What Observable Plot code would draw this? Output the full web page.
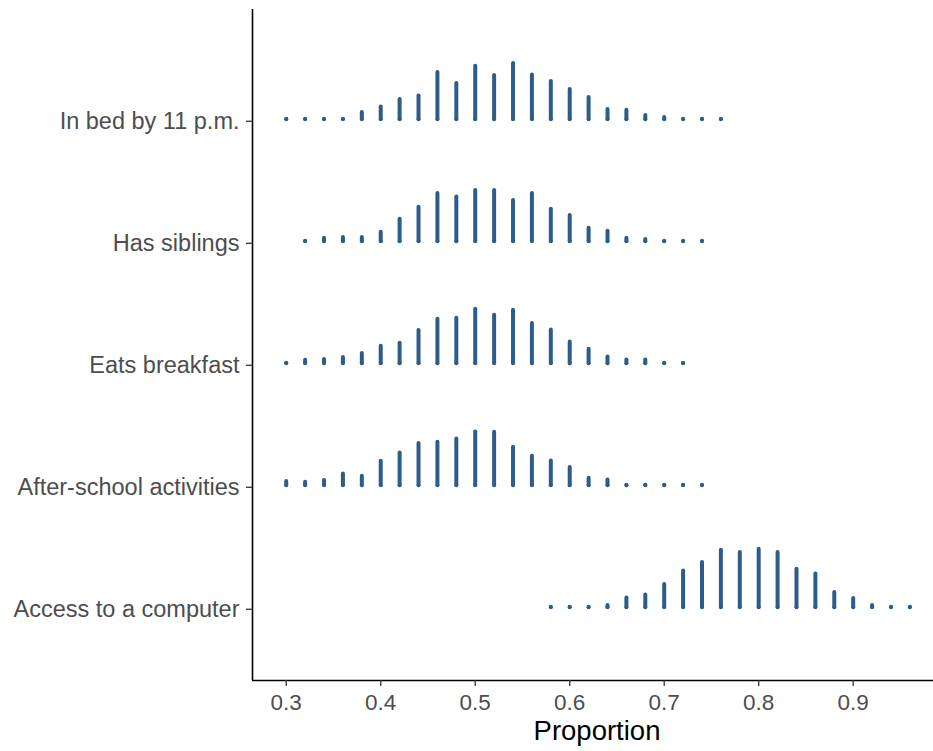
<!DOCTYPE html>
<html>
<head>
<meta charset="utf-8">
<script src="https://cdn.jsdelivr.net/npm/d3@7"></script>
<script src="https://cdn.jsdelivr.net/npm/@observablehq/plot@0.6"></script>
<style>
  html, body { margin: 0; padding: 0; background: #fff; }
  #chart svg { display: block; }
</style>
</head>
<body>
<div id="chart"></div>
<script>
// Categories, bottom to top
const categories = [
  "Access to a computer",
  "After-school activities",
  "Eats breakfast",
  "Has siblings",
  "In bed by 11 p.m."
];

// Bin width of the proportion grid
const binWidth = 0.02;

// First proportion of each category's series
const startAccess = 0.58;
const startAfter = 0.30;
const startBreakfast = 0.30;
const startSiblings = 0.32;
const startBed = 0.30;

// Frequencies (bar heights)
const freqAccess = [0, 0, 0, 1.7, 9.3, 12.3, 22.7, 36.3, 44.7, 57, 54.7, 58, 54.7, 38, 33.3, 14.7, 8.7, 1.7, 0, 0];
const freqAfter = [3.7, 3, 4.7, 11.3, 9, 24, 32.3, 41.7, 43, 46.3, 53.3, 53, 38, 29, 24.3, 17.7, 7, 5.3, 0, 0, 0, 0, 0];
const freqBreakfast = [0, 3, 3.7, 5.7, 9.7, 17, 20, 32.7, 44, 45, 54, 48, 53, 39.7, 33.3, 21.3, 14, 6.3, 3.3, 3.3, 0, 0];
const freqSiblings = [0, 3, 3.7, 3.7, 9, 22, 34, 47.7, 44.3, 50.7, 50.7, 40.7, 47.7, 32, 25.7, 13, 10, 3, 1.7, 0, 0, 0];
const freqBed = [0, 0, 0, 0, 6.7, 12.3, 19.7, 23.3, 46.7, 35.7, 53, 43.7, 55.7, 44.3, 37.7, 29.7, 21.7, 9.7, 9, 3.7, 1.7, 0, 0, 0];

const xTicks = [0.3, 0.4, 0.5, 0.6, 0.7, 0.8, 0.9];

// frequency units per category step
const freqPerStep = 121.75;

const series = [
  [startAccess, freqAccess],
  [startAfter, freqAfter],
  [startBreakfast, freqBreakfast],
  [startSiblings, freqSiblings],
  [startBed, freqBed]
];

const data = [];
series.forEach(([start, freqs], ci) => {
  freqs.forEach((f, i) => {
    data.push({
      category: categories[ci],
      idx: ci,
      proportion: +(start + i * binWidth).toFixed(2),
      freq: f
    });
  });
});

const color = "#2c5d8a";
const font = "'Liberation Sans', Arial, Helvetica, sans-serif";

const xDomain = [0.2643, 0.985];
const yDomain = [-0.6, 4.9];

const chart = Plot.plot({
  width: 933,
  height: 751,
  marginLeft: 252,
  marginRight: 0,
  marginTop: 9,
  marginBottom: 71,
  style: { fontFamily: font, background: "#fff" },
  x: { domain: xDomain },
  y: { domain: yDomain },
  marks: [
    Plot.ruleX(data, {
      x: "proportion",
      y1: "idx",
      y2: d => d.idx + d.freq / freqPerStep,
      stroke: color,
      strokeWidth: 4,
      strokeLinecap: "round"
    }),
    Plot.dot(data, {
      x: "proportion",
      y: "idx",
      r: 2,
      fill: color,
      stroke: null
    }),
    Plot.ruleX([xDomain[0]], { stroke: "#000", strokeWidth: 1.6 }),
    Plot.ruleY([yDomain[0]], { stroke: "#000", strokeWidth: 1.6 }),
    Plot.axisY({
      ticks: d3.range(categories.length),
      tickFormat: i => categories[i],
      tickSize: 6,
      tickPadding: 7,
      fontSize: 23.5,
      dy: 2,
      fill: "#4d4d4d",
      stroke: "#333",
      strokeWidth: 1.3,
      label: null
    }),
    Plot.axisX({
      ticks: xTicks,
      tickFormat: d3.format(".1f"),
      tickSize: 6,
      tickPadding: 8,
      fontSize: 22.5,
      fill: "#4d4d4d",
      stroke: "#333",
      strokeWidth: 1.3,
      label: null
    }),
    Plot.text(["Proportion"], {
      frameAnchor: "bottom",
      dy: 59,
      dx: 4,
      fontSize: 27.5,
      fill: "#000"
    })
  ]
});

document.getElementById("chart").appendChild(chart);
</script>
</body>
</html>
